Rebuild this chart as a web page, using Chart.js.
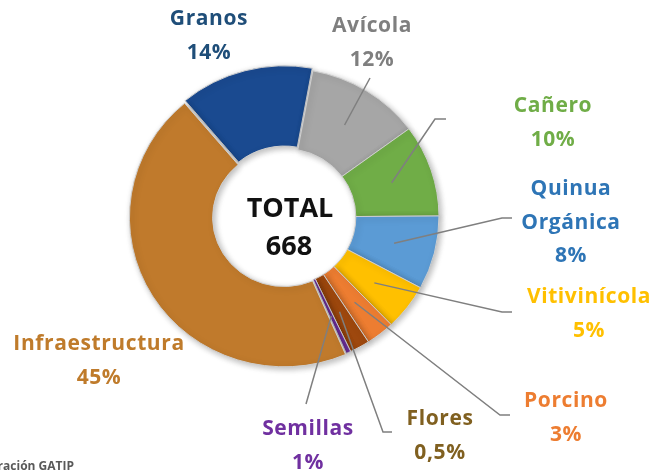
<!DOCTYPE html>
<html>
<head>
<meta charset="utf-8">
<script src="https://cdn.jsdelivr.net/npm/chart.js@4"></script>
<style>
  html, body { margin: 0; padding: 0; background: #fff; }
  #wrap { width: 659px; height: 474px; position: relative; }
</style>
</head>
<body>
<div id="wrap"><canvas id="projChart"></canvas></div>
<script>
// Data
const categories = ['Granos', 'Avícola', 'Cañero', 'Quinua Orgánica', 'Vitivinícola', 'Porcino', 'Flores', 'Semillas', 'Infraestructura'];
const shares = [14, 12, 10, 8, 5, 3, 2.1, 0.5, 45.4]; // slice sizes as drawn
const percentLabels = ['14%', '12%', '10%', '8%', '5%', '3%', '0,5%', '1%', '45%'];
const totalProjects = 668;

const sliceColors = ['#1a4a90', '#a6a6a6', '#70ad47', '#5b9bd5', '#ffc000', '#ed7d31', '#9e480e', '#7030a0', '#c07a2c'];
const textColors = ['#1f4e79', '#7f7f7f', '#70ad47', '#2e75b6', '#ffc000', '#ed7d31', '#806020', '#7030a0', '#bf7b2b'];

// where each label sits and how its leader line bends
const labelLayout = [
  { lines: ['Granos'], x: 209, y: 25 },
  { lines: ['Avícola'], x: 372, y: 32, lead: [[370, 78]] },
  { lines: ['Cañero'], x: 553, y: 112, lead: [[435, 119], [446, 119]] },
  { lines: ['Quinua', 'Orgánica'], x: 571, y: 195, lead: [[502, 218], [512, 218]] },
  { lines: ['Vitivinícola'], x: 589, y: 303, lead: [[502, 312], [512, 312]] },
  { lines: ['Porcino'], x: 566, y: 407, lead: [[500, 415], [510, 415]] },
  { lines: ['Flores'], x: 440, y: 425, lead: [[383, 432], [392, 432]] },
  { lines: ['Semillas'], x: 308, y: 435, lead: [[306, 404]] },
  { lines: ['Infraestructura'], x: 99, y: 350 }
];

const FONT = '"Open Sans", "DejaVu Sans", sans-serif';
const SQUASH = 0.965; // the original ring is a little flatter than a circle

// soft drop shadow + slight vertical squash of the ring
const ringPlugin = {
  id: 'ringStyle',
  beforeDatasetsDraw(chart) {
    const c = chart.ctx;
    const a = chart.getDatasetMeta(0).data[0];
    c.save();
    c.translate(a.x, a.y);
    c.scale(1, SQUASH);
    c.translate(-a.x, -a.y);
    c.shadowColor = 'rgba(0,0,0,0.28)';
    c.shadowBlur = 6;
    c.shadowOffsetX = 2;
    c.shadowOffsetY = 2;
  },
  afterDatasetsDraw(chart) {
    chart.ctx.restore();
  }
};

const labelPlugin = {
  id: 'calloutLabels',
  afterDraw(chart) {
    const c = chart.ctx;
    const arcs = chart.getDatasetMeta(0).data;
    c.save();

    // leader lines from the middle of each slice
    c.strokeStyle = '#7f7f7f';
    c.lineWidth = 1.5;
    labelLayout.forEach((lab, i) => {
      if (!lab.lead) return;
      const p = arcs[i].getCenterPoint();
      c.beginPath();
      c.moveTo(p.x, arcs[i].y + (p.y - arcs[i].y) * SQUASH);
      lab.lead.forEach(pt => c.lineTo(pt[0], pt[1]));
      c.stroke();
    });

    // category name + percentage
    c.font = 'bold 21px ' + FONT;
    c.letterSpacing = '0.6px';
    c.textAlign = 'center';
    c.textBaseline = 'alphabetic';
    labelLayout.forEach((lab, i) => {
      c.fillStyle = textColors[i];
      const rows = lab.lines.concat([percentLabels[i]]);
      rows.forEach((t, k) => c.fillText(t, lab.x, lab.y + k * 33.5));
    });
    c.letterSpacing = '0px';

    // total in the hole
    const a = arcs[0];
    c.fillStyle = '#111';
    c.font = 'bold 27px ' + FONT;
    c.fillText('TOTAL', a.x + 5, 217);
    c.fillText(String(totalProjects), a.x + 4, 255);

    // source note, clipped at the left edge as in the original
    c.font = 'bold 12px ' + FONT;
    c.fillStyle = '#595959';
    c.textAlign = 'right';
    c.fillText('Fuente: Elaboración GATIP', 74, 470);
    c.restore();
  }
};

const ctx = document.getElementById('projChart').getContext('2d');
const projChart = new Chart(ctx, {
  type: 'doughnut',
  data: {
    labels: categories,
    datasets: [{
      data: shares,
      backgroundColor: sliceColors,
      borderColor: '#cfcfcf',
      borderWidth: 1,
      offset: [9, 0, 0, 0, 0, 0, 0, 0, 4]
    }]
  },
  options: {
    responsive: true,
    maintainAspectRatio: false,
    animation: false,
    rotation: -40,
    radius: 154,
    cutout: '46%',
    layout: { padding: { left: 60, right: 149, top: 40, bottom: 80 } },
    plugins: {
      legend: { display: false },
      tooltip: { enabled: false }
    }
  },
  plugins: [ringPlugin, labelPlugin]
});
</script>
</body>
</html>
